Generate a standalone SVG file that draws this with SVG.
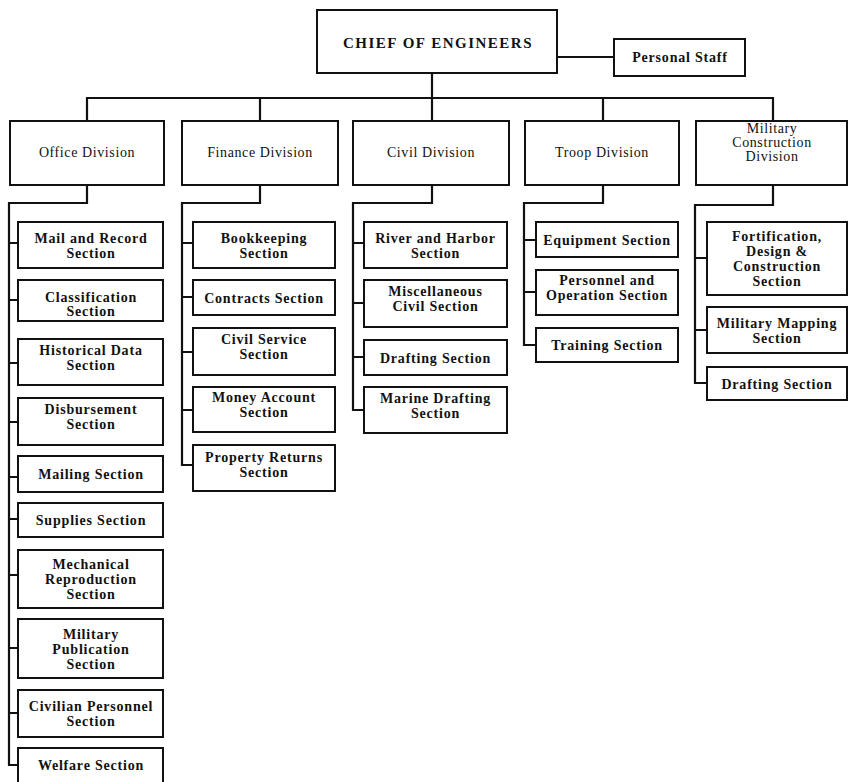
<svg xmlns="http://www.w3.org/2000/svg" width="849" height="782" viewBox="0 0 849 782">
<style>
.box{fill:#fff;stroke:#111;stroke-width:2}
.conn{fill:none;stroke:#111;stroke-width:2.2}
text{font-family:"Liberation Serif","Times New Roman",serif;fill:#111;text-anchor:middle}
.sec{font-weight:bold;font-size:14px;letter-spacing:0.8px}
.dv{font-weight:normal;font-size:14px;letter-spacing:0.6px}
.top{font-weight:bold;font-size:15px;letter-spacing:1.5px}
</style>
<rect width="849" height="782" fill="#fff"/>
<g id="connectors">
<path class="conn" d="M557,57 H614"/>
<path class="conn" d="M432,73 V98"/>
<path class="conn" d="M87,121 V98 H773 V121"/>
<path class="conn" d="M260,98 V121 M432,98 V121 M603,98 V121"/>
<path class="conn" d="M87,185 V203 H9 V765 H18 M9,243 H18 M9,300 H18 M9,363 H18 M9,422 H18 M9,477 H18 M9,519 H18 M9,575 H18 M9,648 H18 M9,713 H18"/>
<path class="conn" d="M260,185 V203 H182 V465 H193 M182,243 H193 M182,297 H193 M182,352 H193 M182,410 H193"/>
<path class="conn" d="M432,185 V203 H353 V410 H364 M353,243 H364 M353,303 H364 M353,357 H364"/>
<path class="conn" d="M603,185 V203 H524 V345 H536 M524,240 H536 M524,292 H536"/>
<path class="conn" d="M773,185 V205 H695 V383 H707 M695,258 H707 M695,330 H707"/>
</g>
<g id="chief"><rect class="box" x="317" y="10" width="240" height="63"/><text class="top" x="438" y="48">CHIEF OF ENGINEERS</text></g>
<g id="personal-staff"><rect class="box" x="614" y="39" width="131" height="37"/><text class="sec" x="680" y="62">Personal Staff</text></g>

<g id="office-division"><rect class="box" x="10" y="121" width="154" height="64"/><text class="dv" x="87" y="157">Office Division</text></g>
<g id="finance-division"><rect class="box" x="182" y="121" width="156" height="64"/><text class="dv" x="260" y="157">Finance Division</text></g>
<g id="civil-division"><rect class="box" x="353" y="121" width="156" height="64"/><text class="dv" x="431" y="157">Civil Division</text></g>
<g id="troop-division"><rect class="box" x="525" y="121" width="154" height="64"/><text class="dv" x="602" y="157">Troop Division</text></g>
<g id="military-construction-division"><rect class="box" x="696" y="121" width="151" height="64"/><text class="dv" x="772" y="133">Military</text><text class="dv" x="772" y="147">Construction</text><text class="dv" x="772" y="161">Division</text></g>

<g id="mail-record"><rect class="box" x="18" y="222" width="145" height="46"/><text class="sec" x="91" y="242.5">Mail and Record</text><text class="sec" x="91" y="257.5">Section</text></g>
<g id="classification"><rect class="box" x="18" y="280" width="145" height="41"/><text class="sec" x="91" y="302">Classification</text><text class="sec" x="91" y="316">Section</text></g>
<g id="historical-data"><rect class="box" x="18" y="339" width="145" height="46"/><text class="sec" x="91" y="355">Historical Data</text><text class="sec" x="91" y="370">Section</text></g>
<g id="disbursement"><rect class="box" x="18" y="398" width="145" height="47"/><text class="sec" x="91" y="414">Disbursement</text><text class="sec" x="91" y="429">Section</text></g>
<g id="mailing"><rect class="box" x="18" y="456" width="145" height="36"/><text class="sec" x="91" y="479">Mailing Section</text></g>
<g id="supplies"><rect class="box" x="18" y="503" width="145" height="34"/><text class="sec" x="91" y="525">Supplies Section</text></g>
<g id="mechanical-reproduction"><rect class="box" x="18" y="550" width="145" height="58"/><text class="sec" x="91" y="569">Mechanical</text><text class="sec" x="91" y="584">Reproduction</text><text class="sec" x="91" y="599">Section</text></g>
<g id="military-publication"><rect class="box" x="18" y="619" width="145" height="59"/><text class="sec" x="91" y="638.5">Military</text><text class="sec" x="91" y="653.5">Publication</text><text class="sec" x="91" y="668.5">Section</text></g>
<g id="civilian-personnel"><rect class="box" x="18" y="690" width="145" height="47"/><text class="sec" x="91" y="711">Civilian Personnel</text><text class="sec" x="91" y="726">Section</text></g>
<g id="welfare"><rect class="box" x="18" y="748" width="145" height="44"/><text class="sec" x="91" y="770">Welfare Section</text></g>

<g id="bookkeeping"><rect class="box" x="193" y="222" width="142" height="46"/><text class="sec" x="264" y="242.5">Bookkeeping</text><text class="sec" x="264" y="257.5">Section</text></g>
<g id="contracts"><rect class="box" x="193" y="280" width="142" height="35"/><text class="sec" x="264" y="302.5">Contracts Section</text></g>
<g id="civil-service"><rect class="box" x="193" y="328" width="142" height="47"/><text class="sec" x="264" y="344">Civil Service</text><text class="sec" x="264" y="359">Section</text></g>
<g id="money-account"><rect class="box" x="193" y="387" width="142" height="45"/><text class="sec" x="264" y="402">Money Account</text><text class="sec" x="264" y="417">Section</text></g>
<g id="property-returns"><rect class="box" x="193" y="445" width="142" height="46"/><text class="sec" x="264" y="462">Property Returns</text><text class="sec" x="264" y="477">Section</text></g>

<g id="river-harbor"><rect class="box" x="364" y="222" width="143" height="46"/><text class="sec" x="435.5" y="242.5">River and Harbor</text><text class="sec" x="435.5" y="257.5">Section</text></g>
<g id="misc-civil"><rect class="box" x="364" y="280" width="143" height="47"/><text class="sec" x="435.5" y="296">Miscellaneous</text><text class="sec" x="435.5" y="311">Civil Section</text></g>
<g id="civil-drafting"><rect class="box" x="364" y="340" width="143" height="35"/><text class="sec" x="435.5" y="362.5">Drafting Section</text></g>
<g id="marine-drafting"><rect class="box" x="364" y="387" width="143" height="46"/><text class="sec" x="435.5" y="402.5">Marine Drafting</text><text class="sec" x="435.5" y="417.5">Section</text></g>

<g id="equipment"><rect class="box" x="536" y="222" width="142" height="35"/><text class="sec" x="607" y="244.5">Equipment Section</text></g>
<g id="personnel-operation"><rect class="box" x="536" y="270" width="142" height="45"/><text class="sec" x="607" y="285">Personnel and</text><text class="sec" x="607" y="300">Operation Section</text></g>
<g id="training"><rect class="box" x="536" y="328" width="142" height="34"/><text class="sec" x="607" y="350">Training Section</text></g>

<g id="fortification"><rect class="box" x="707" y="222" width="140" height="73"/><text class="sec" x="777" y="241">Fortification,</text><text class="sec" x="777" y="256">Design &amp;</text><text class="sec" x="777" y="271">Construction</text><text class="sec" x="777" y="286">Section</text></g>
<g id="military-mapping"><rect class="box" x="707" y="307" width="140" height="46"/><text class="sec" x="777" y="327.5">Military Mapping</text><text class="sec" x="777" y="342.5">Section</text></g>
<g id="mc-drafting"><rect class="box" x="707" y="367" width="140" height="33"/><text class="sec" x="777" y="388.5">Drafting Section</text></g>
</svg>
